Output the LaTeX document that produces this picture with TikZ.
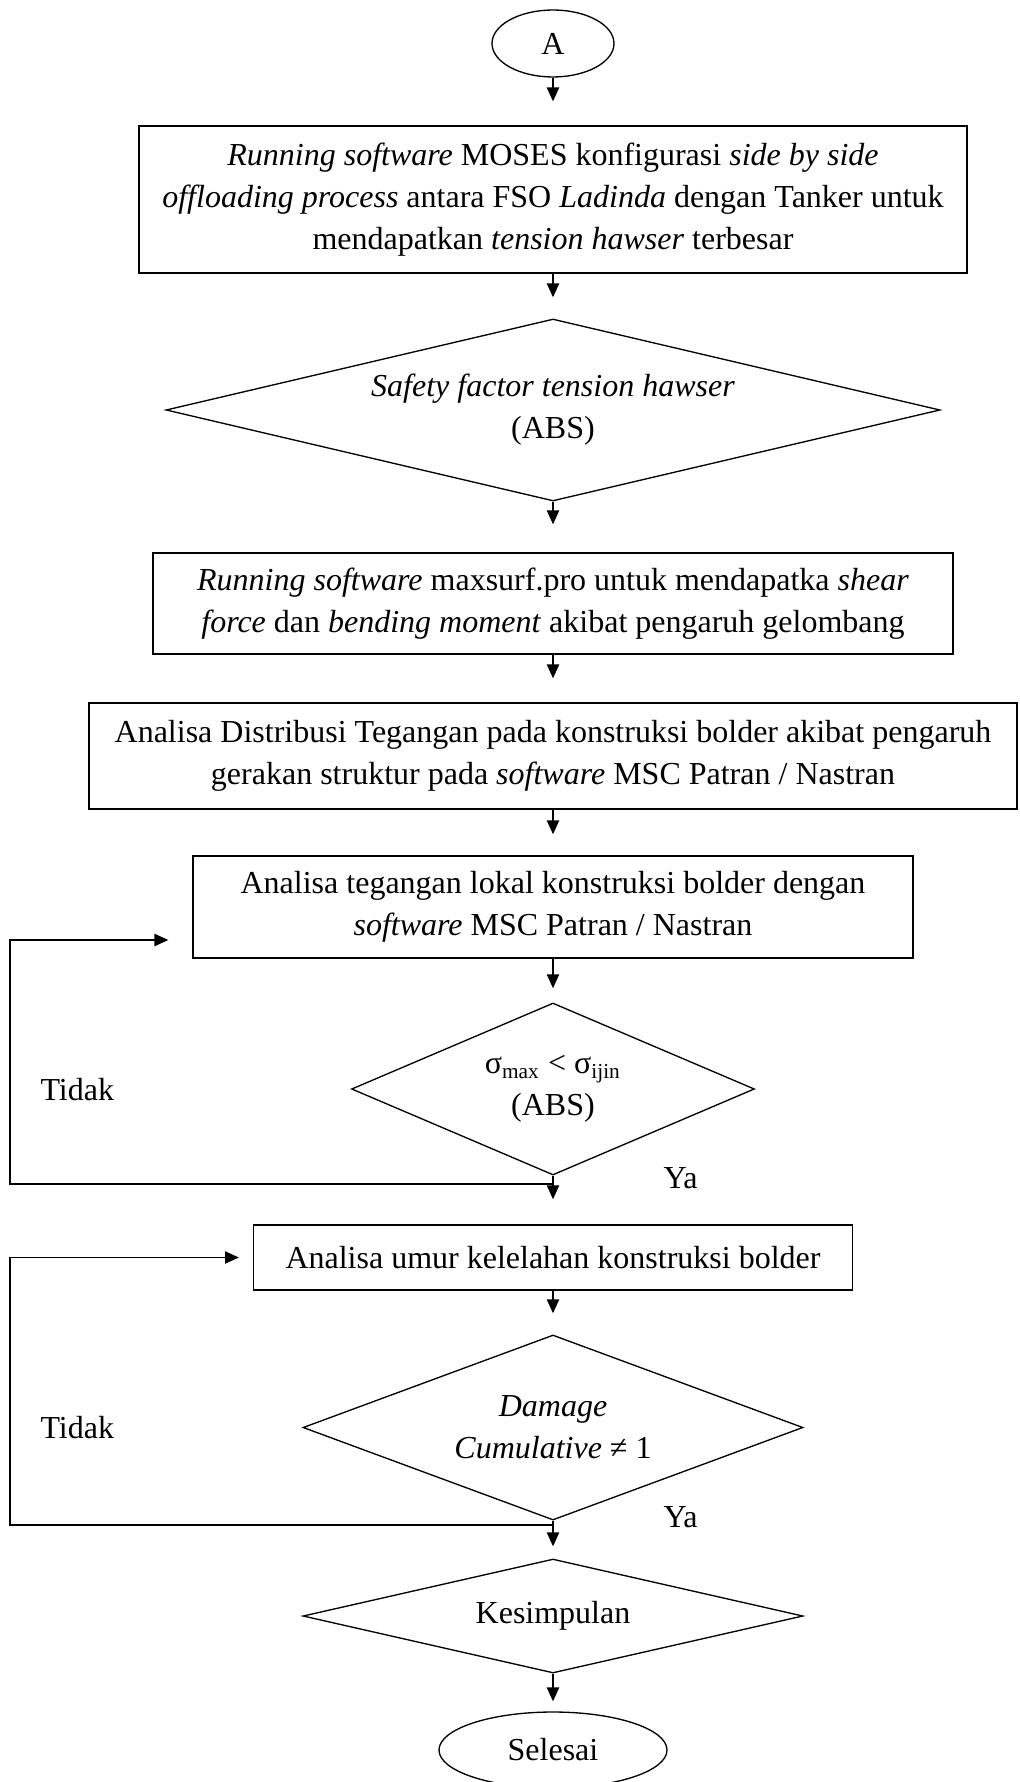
\documentclass[tikz,border=0pt]{standalone}
\usepackage{fontspec}
\setmainfont{Liberation Serif}
\usepackage{tikz}
\usetikzlibrary{shapes.geometric,arrows.meta}

\begin{document}
\begin{tikzpicture}[x=0.375pt,y=-0.375pt,
	every node/.style={font=\fontsize{12}{15.8}\selectfont,inner sep=0pt,align=center},
	proses/.style={draw,rectangle,line width=0.5pt},
	keputusan/.style={draw,diamond,line width=0.5pt},
	terminal/.style={draw,ellipse,line width=0.5pt},
	alur/.style={draw,line width=0.5pt,-{Triangle[length=5.2pt,width=4.6pt]},shorten >=#1},
	alur/.default=8pt]
					\useasboundingbox (0,0) rectangle (1019,1782);
					\node[terminal,minimum width=45.75pt,minimum height=25.1pt] (a) at (553,43.5) {A};
					\node[proses,minimum width=310.5pt,minimum height=55.1pt] (b1) at (553,199.5)
						{\textit{Running software} MOSES konfigurasi \textit{side by side}\\
						\textit{offloading process} antara FSO \textit{Ladinda} dengan Tanker untuk\\
						mendapatkan \textit{tension hawser} terbesar};
					\node[keputusan,shape aspect=4.25,minimum width=290.25pt,minimum height=68.25pt] (d1) at (553,410)
						{\textit{Safety factor tension hawser}\\(ABS)};
					\node[proses,minimum width=300pt,minimum height=37.9pt] (b2) at (553,603.5)
						{\textit{Running software} maxsurf.pro untuk mendapatka \textit{shear}\\
						\textit{force} dan \textit{bending moment} akibat pengaruh gelombang};
					\node[proses,minimum width=348pt,minimum height=39.75pt] (b3) at (553,756)
						{Analisa Distribusi Tegangan pada konstruksi bolder akibat pengaruh\\
						gerakan struktur pada \textit{software} MSC Patran / Nastran};
					\node[proses,minimum width=270pt,minimum height=38.25pt] (b4) at (553,907)
						{Analisa tegangan lokal konstruksi bolder dengan\\
						\textit{software} MSC Patran / Nastran};
					\node[keputusan,shape aspect=2.34,minimum width=151.1pt,minimum height=64.5pt] (d2) at (553,1089)
						{σ\textsubscript{max} < σ\textsubscript{ijin}\\(ABS)};
					\node[proses,minimum width=224.6pt,minimum height=24.4pt] (b5) at (553,1257.5)
						{Analisa umur kelelahan konstruksi bolder};
					\node[keputusan,shape aspect=2.7,minimum width=187.5pt,minimum height=69.4pt] (d3) at (553,1427.5)
						{\textit{Damage}\\\textit{Cumulative} ≠ 1};
					\node[keputusan,shape aspect=4.39,minimum width=187.5pt,minimum height=42.75pt] (d4) at (553,1616)
						{Kesimpulan};
					\node[terminal,minimum width=85.5pt,minimum height=28.5pt] (e) at (553,1750) {Selesai};
					\node[anchor=west] (tidak1) at (40,1090) {Tidak};
					\node[anchor=west] (ya1) at (663,1178) {Ya};
					\node[anchor=west] (tidak2) at (40,1428) {Tidak};
					\node[anchor=west] (ya2) at (663,1517) {Ya};
					\coordinate (j1) at (553,1184);
					\coordinate (k1) at (10,1184);
					\coordinate (m1) at (10,940);
					\coordinate (j2) at (553,1525);
					\coordinate (k2) at (10,1525);
					\path (a) edge[alur=9pt] (b1);
					\path (b1) edge[alur=7.9pt] (d1);
					\path (d1) edge[alur=10.5pt] (b2);
					\path (b2) edge[alur=9pt] (b3);
					\path (b3) edge[alur=7.9pt] (b4);
					\path (b4) edge[alur=5.3pt] (d2);
					\path (d2) edge[alur=9.4pt] (b5);
					\path (b5) edge[alur=7.9pt] (d3);
					\path (d3) edge[alur=4.5pt] (d4);
					\path (d4) edge[alur=3.75pt] (e);
					\draw[alur=9pt] (j1) -- (k1) -- (m1) -- (m1 -| b4.west);
					\draw[alur=5.25pt] (j2) -- (k2) |- (b5.west);
				\end{tikzpicture}
\end{document}
